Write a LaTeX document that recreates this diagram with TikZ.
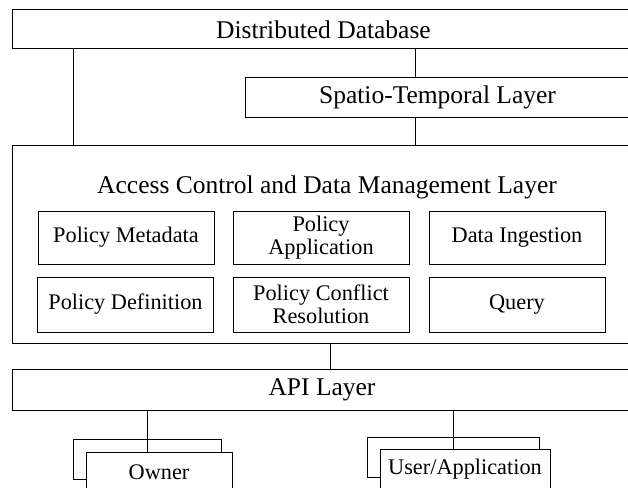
\documentclass[tikz,border=0pt]{standalone}
\usepackage{fontspec}
\setmainfont{Liberation Serif}
\begin{document}
\begin{tikzpicture}[x=1pt,y=-1pt,
  box/.style={draw=black,line width=1pt,fill=white,rectangle,inner sep=0pt},
  big/.style={font=\fontsize{25.5}{27}\selectfont},
  small/.style={font=\fontsize{22.3}{23}\selectfont,align=center},
  link/.style={draw=black,line width=1pt}]
\clip (0,0) rectangle (628,487);
\fill[white] (0,0) rectangle (628,487);

% layers
\node[box,big,minimum width=623pt,minimum height=39pt] (dd) at (323.5,29.5) {Distributed Database};
\node[box,big,minimum width=385pt,minimum height=40pt] (st) at (437.5,97) {Spatio-Temporal Layer};
\node[box,minimum width=630pt,minimum height=198pt] (acl) at (327,244) {};
\node[big,anchor=base] (acltitle) at (327,193) {Access Control and Data Management Layer};
\node[box,big,minimum width=620pt,minimum height=41pt] (api) at (322,389.5) {API Layer};

% components of the access control layer
\node[box,small,minimum width=176pt,minimum height=53pt] (pm) at (126,237.5) {Policy Metadata};
\node[box,small,minimum width=176pt,minimum height=53pt] (pa) at (321,237.5) {Policy\\Application};
\node[box,small,minimum width=176pt,minimum height=53pt] (di) at (517,237.5) {Data Ingestion};
\node[box,small,minimum width=176pt,minimum height=55pt] (pd) at (125.5,304.5) {Policy Definition};
\node[box,small,minimum width=176pt,minimum height=55pt] (pc) at (321,304.5) {Policy Conflict\\Resolution};
\node[box,small,minimum width=176pt,minimum height=55pt] (qu) at (517,304.5) {Query};

% clients (stacked boxes)
\node[box,minimum width=148pt,minimum height=40pt] (ownback) at (147,459) {};
\node[box,minimum width=172pt,minimum height=40pt] (userback) at (453,457) {};
\coordinate (lx) at (73,0);
\coordinate (rx) at (415.5,0);
\coordinate (mx) at (330,0);

% connectors
\draw[link] (lx |- dd.south) -- (lx |- acl.north);
\draw[link] (rx |- dd.south) -- (rx |- st.north);
\draw[link] (rx |- st.south) -- (rx |- acl.north);
\draw[link] (mx |- acl.south) -- (mx |- api.north);
\draw[link] (ownback.center |- api.south) -- (ownback.north);
\draw[link] (userback.center |- api.south) -- (userback.north);
\draw[link] (ownback.north) -- (ownback.center);
\draw[link] (userback.north) -- (userback.center);

\node[box,small,minimum width=146pt,minimum height=40pt] (own) at (159,472) {Owner};
\node[box,small,minimum width=170pt,minimum height=40pt] (user) at (465,469) {User/Application};
\end{tikzpicture}
\end{document}
